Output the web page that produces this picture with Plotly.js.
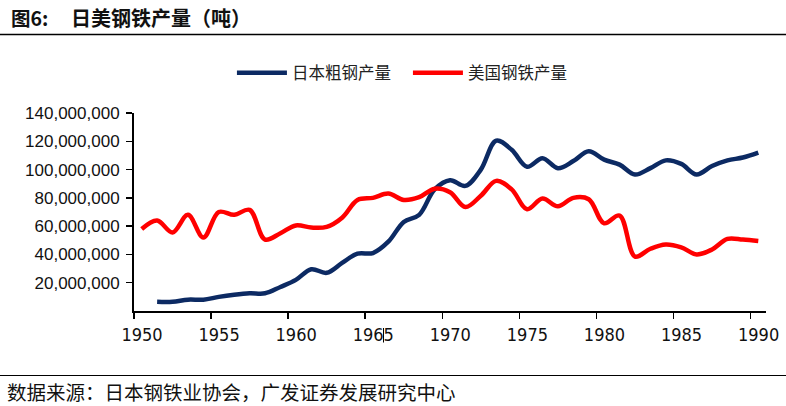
<!DOCTYPE html>
<html>
<head>
<meta charset="utf-8">
<script src="https://cdn.plot.ly/plotly-3.0.1.min.js"></script>
<style>
body { margin: 0; background: #fff; }
#chart { width: 786px; height: 406px; }
</style>
</head>
<body>
<div id="chart"></div>
<script>
// steel output by year, tonnes
const years = [1950, 1951, 1952, 1953, 1954, 1955, 1956, 1957, 1958, 1959,
	1960, 1961, 1962, 1963, 1964, 1965, 1966, 1967, 1968, 1969,
	1970, 1971, 1972, 1973, 1974, 1975, 1976, 1977, 1978, 1979,
	1980, 1981, 1982, 1983, 1984, 1985, 1986, 1987, 1988, 1989, 1990]

const japanSteel = [null, 6.5e6, 6.5e6, 8e6, 8e6, 10e6, 11.5e6, 12.5e6, 12.5e6, 17e6,
	22e6, 29.5e6, 27e6, 34e6, 40.5e6, 41e6, 49e6, 63e6, 68e6, 86e6,
	92.5e6, 88.5e6, 100e6, 120.5e6, 114e6, 102e6, 108e6, 101e6, 106e6, 113e6,
	107e6, 103.5e6, 96.5e6, 101e6, 106.5e6, 104e6, 96.5e6, 102.5e6, 106.5e6, 108.5e6, 112e6]

const usSteel = [58e6, 64e6, 55.5e6, 68e6, 52e6, 70e6, 68e6, 71.5e6, 50.5e6, 55e6,
	60.5e6, 59e6, 59.5e6, 66e6, 78.5e6, 80e6, 83e6, 78.5e6, 80.5e6, 86.5e6,
	84e6, 73.5e6, 81.5e6, 92e6, 86e6, 72e6, 79.5e6, 74e6, 80e6, 79e6,
	62e6, 67.5e6, 38.5e6, 44e6, 47e6, 45e6, 40e6, 43.5e6, 51e6, 50.5e6, 49.5e6]

const xTickLabels = ['1950', '1955', '1960', '1965', '1970', '1975', '1980', '1985', '1990']
const yTicks = [20e6, 40e6, 60e6, 80e6, 100e6, 120e6, 140e6]

const seriesNames = ['日本粗钢产量', '美国钢铁产量']
const figLabel = '图6:'
const titleText = '日美钢铁产量（吨）'
const sourceText = '数据来源：日本钢铁业协会，广发证券发展研究中心'

const cjk = '"Noto Sans CJK SC", "Noto Sans", sans-serif'
const latin = '"Liberation Sans", Arial, sans-serif'
const narrow = '"Liberation Sans Narrow", "DejaVu Sans Condensed", "Liberation Sans", sans-serif'

const trace_japan = {
	name: seriesNames[0],
	x: years,
	y: japanSteel,
	type: 'scatter',
	mode: 'lines',
	connectgaps: false,
	line: {color: '#0c2a63', width: 4.5, shape: 'spline', smoothing: 1}
}
const trace_us = {
	name: seriesNames[1],
	x: years,
	y: usSteel,
	type: 'scatter',
	mode: 'lines',
	line: {color: '#ff0000', width: 4.5, shape: 'spline', smoothing: 1}
}

// excel category axis: tick marks sit between categories, labels on them
const tickPos = xTickLabels.map(t => Number(t) - 0.5)

// plot area is 632 x 198 px, shapes/notes placed in paper units from that
const pw = 632, ph = 198

const layout = {
	width: 786,
	height: 406,
	margin: {l: 134, r: 20, t: 113, b: 95},
	paper_bgcolor: '#fff',
	plot_bgcolor: '#fff',
	showlegend: true,
	legend: {
		orientation: 'h',
		xref: 'container', yref: 'container',
		x: 0.519, y: 1 - 73 / 406,
		xanchor: 'center', yanchor: 'middle',
		font: {family: cjk, size: 16.5, color: '#222'},
		itemwidth: 50,
		entrywidth: 111,
		entrywidthmode: 'pixels',
		tracegroupgap: 0
	},
	xaxis: {
		range: [1949.5, 1990.5],
		tickmode: 'array',
		tickvals: tickPos,
		ticktext: xTickLabels,
		ticklabelshift: 8,
		ticks: 'outside', ticklen: 6, tickwidth: 1.5, tickcolor: '#000',
		showline: true, linecolor: '#000', linewidth: 2,
		showgrid: false, zeroline: false, fixedrange: true,
		tickfont: {family: narrow, size: 18, color: '#111'}
	},
	yaxis: {
		range: [0, 140e6],
		tickmode: 'array',
		tickvals: yTicks,
		tickformat: ',d',
		ticks: 'outside', ticklen: 6, tickwidth: 1.5, tickcolor: '#000',
		ticklabelstandoff: 3,
		showline: true, linecolor: '#000', linewidth: 2,
		showgrid: false, zeroline: false, fixedrange: true,
		tickfont: {family: latin, size: 17, color: '#111'}
	},
	shapes: [
		{type: 'line', xref: 'paper', yref: 'paper', x0: -134 / pw, x1: 652 / pw,
			y0: 1 + 78.5 / ph, y1: 1 + 78.5 / ph, line: {color: '#000', width: 1.5}},
		{type: 'line', xref: 'paper', yref: 'paper', x0: -134 / pw, x1: 652 / pw,
			y0: -64.5 / ph, y1: -64.5 / ph, line: {color: '#000', width: 1.2}},
		// stray cursor mark on the 1965 label in the source image
		{type: 'line', xref: 'paper', yref: 'paper', x0: 249.5 / pw, x1: 249.5 / pw,
			y0: -17 / ph, y1: -31.5 / ph, line: {color: '#000', width: 1}}
	],
	annotations: [
		{text: '<b>' + figLabel + '</b>', xref: 'paper', yref: 'paper',
			x: -125 / pw, y: 1 + 96 / ph, xanchor: 'left', yanchor: 'middle',
			showarrow: false, font: {family: cjk, size: 19.5, color: '#111'}},
		{text: '<b>' + titleText + '</b>', xref: 'paper', yref: 'paper',
			x: -65 / pw, y: 1 + 96 / ph, xanchor: 'left', yanchor: 'middle',
			showarrow: false, font: {family: cjk, size: 20, color: '#111'}},
		{text: sourceText, xref: 'paper', yref: 'paper',
			x: -127 / pw, y: -80 / ph, xanchor: 'left', yanchor: 'middle',
			borderpad: 0, borderwidth: 0,
			showarrow: false, font: {family: cjk, size: 19.5, color: '#111'}}
	]
}

const config = {displayModeBar: false, staticPlot: true}

document.addEventListener('DOMContentLoaded', function() {
	Plotly.newPlot('chart', [trace_japan, trace_us], layout, config)
})
</script>
</body>
</html>
